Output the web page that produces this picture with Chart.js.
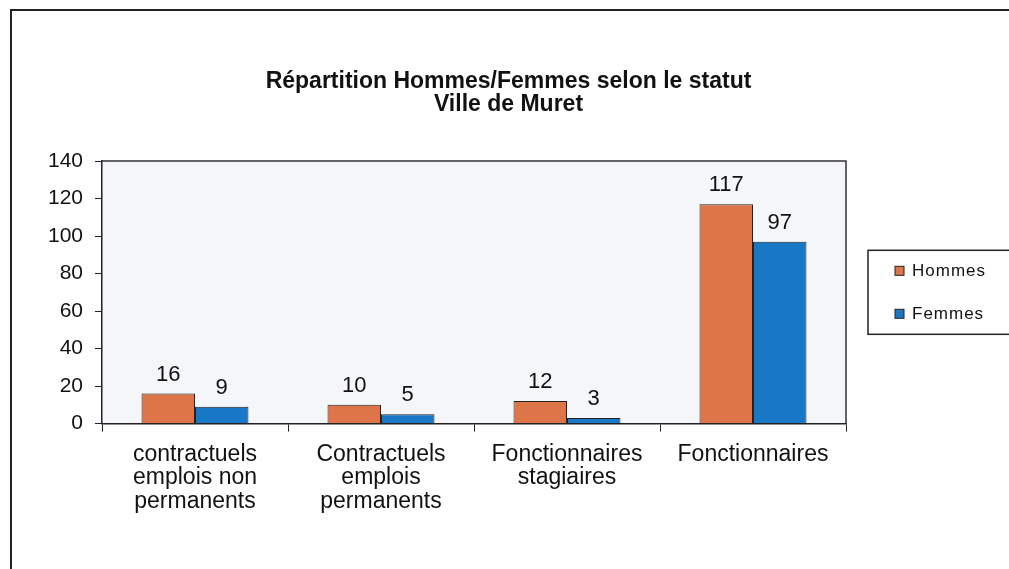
<!DOCTYPE html>
<html>
<head>
<meta charset="utf-8">
<script src="https://cdn.jsdelivr.net/npm/chart.js@4.4.0/dist/chart.umd.min.js"></script>
<style>
  html, body { margin: 0; padding: 0; background: #fff; overflow: hidden; }
  #frame { position: absolute; left: 10px; top: 9px; width: 1100px; height: 700px; border: 2px solid #222; }
  #wrap { position: absolute; left: 0; top: 0; width: 1009px; height: 569px; }
</style>
</head>
<body>
<div id="frame"></div>
<div id="wrap"><canvas id="barChart"></canvas></div>
<script>
// chart data
var categories = [
  ['contractuels', 'emplois non', 'permanents'],
  ['Contractuels', 'emplois', 'permanents'],
  ['Fonctionnaires', 'stagiaires'],
  'Fonctionnaires'
];
var hommes = [16, 10, 12, 117];
var femmes = [9, 5, 3, 97];
var yTicks = [0, 20, 40, 60, 80, 100, 120, 140];

document.addEventListener('DOMContentLoaded', function() {
  var font = 'Liberation Sans, Arial, sans-serif';

  // light plot background, top/right frame lines, boxed legend
  var plotFrame = {
    id: 'plotFrame',
    beforeDraw: function(chart) {
      var a = chart.chartArea, c = chart.ctx;
      c.save();
      c.fillStyle = '#f5f6f9';
      c.fillRect(a.left, a.top, a.right - a.left, a.bottom - a.top);
      c.restore();
    },
    afterDraw: function(chart) {
      var a = chart.chartArea, c = chart.ctx;
      c.save();
      c.strokeStyle = '#333';
      c.lineWidth = 1.5;
      c.beginPath();
      c.moveTo(a.left, a.top);
      c.lineTo(a.right, a.top);
      c.lineTo(a.right, a.bottom);
      c.stroke();

      // legend box to the right of the plot
      var mid = (a.top + a.bottom) / 2;
      var l = a.right + 22, t = mid - 42;
      c.strokeStyle = '#222';
      c.lineWidth = 1.5;
      c.strokeRect(l, t, 142, 84);
      c.font = '17px ' + font;
      c.letterSpacing = '1px';
      c.textBaseline = 'middle';
      c.textAlign = 'left';
      chart.data.datasets.forEach(function(ds, i) {
        var y = mid - 21 + i * 43;
        c.fillStyle = ds.backgroundColor;
        c.fillRect(l + 27, y - 5, 9, 9);
        c.strokeStyle = '#222';
        c.lineWidth = 1;
        c.strokeRect(l + 27, y - 5, 9, 9);
        c.fillStyle = '#111';
        c.fillText(ds.label, l + 44, y);
      });
      c.restore();
    }
  };

  // value labels above bars
  var valueLabels = {
    id: 'valueLabels',
    afterDatasetsDraw: function(chart) {
      var c = chart.ctx;
      c.save();
      c.font = '22px ' + font;
      c.fillStyle = '#111';
      c.textAlign = 'center';
      c.textBaseline = 'bottom';
      chart.data.datasets.forEach(function(ds, i) {
        chart.getDatasetMeta(i).data.forEach(function(bar, j) {
          c.fillText(ds.data[j], bar.x, bar.y - 8);
        });
      });
      c.restore();
    }
  };

  var ctx = document.getElementById('barChart').getContext('2d');
  var chart = new Chart(ctx, {
    type: 'bar',
    data: {
      labels: categories,
      datasets: [{
        label: 'Hommes',
        data: hommes,
        backgroundColor: '#de7549',
        borderColor: '#222',
        borderWidth: 1
      }, {
        label: 'Femmes',
        data: femmes,
        backgroundColor: '#1878c6',
        borderColor: '#222',
        borderWidth: 1
      }]
    },
    options: {
      responsive: true,
      maintainAspectRatio: false,
      animation: false,
      layout: { padding: { left: 8, right: 0, top: 0, bottom: 45 } },
      datasets: { bar: { categoryPercentage: 0.575, barPercentage: 1.0 } },
      scales: {
        x: {
          grid: { drawOnChartArea: false, drawTicks: true, tickLength: 8, color: '#222', offset: true },
          border: { display: true, color: '#222', width: 1.5 },
          ticks: { color: '#111', font: { family: font, size: 23, lineHeight: 1.02 }, padding: 11, maxRotation: 0 }
        },
        y: {
          min: 0,
          max: 140,
          afterBuildTicks: function(axis) {
            axis.ticks = yTicks.map(function(v) { return { value: v }; });
          },
          afterFit: function(axis) { axis.width = 94; },
          grid: { drawOnChartArea: false, drawTicks: true, tickLength: 7, color: '#222' },
          border: { display: true, color: '#222', width: 1.5 },
          ticks: { color: '#111', font: { family: font, size: 21 }, padding: 12 }
        },
        // empty right-hand axis keeps room for the legend box
        legendSpace: {
          position: 'right',
          afterFit: function(axis) { axis.width = 163; },
          grid: { display: false },
          border: { display: false },
          ticks: { display: false }
        }
      },
      plugins: {
        title: {
          display: true,
          text: ['Répartition Hommes/Femmes selon le statut', 'Ville de Muret'],
          color: '#111',
          font: { family: font, size: 23, weight: 'bold', lineHeight: 1.0 },
          padding: { top: 70, bottom: 45 }
        },
        legend: { display: false },
        tooltip: { enabled: false }
      }
    },
    plugins: [plotFrame, valueLabels]
  });
});
</script>
</body>
</html>
